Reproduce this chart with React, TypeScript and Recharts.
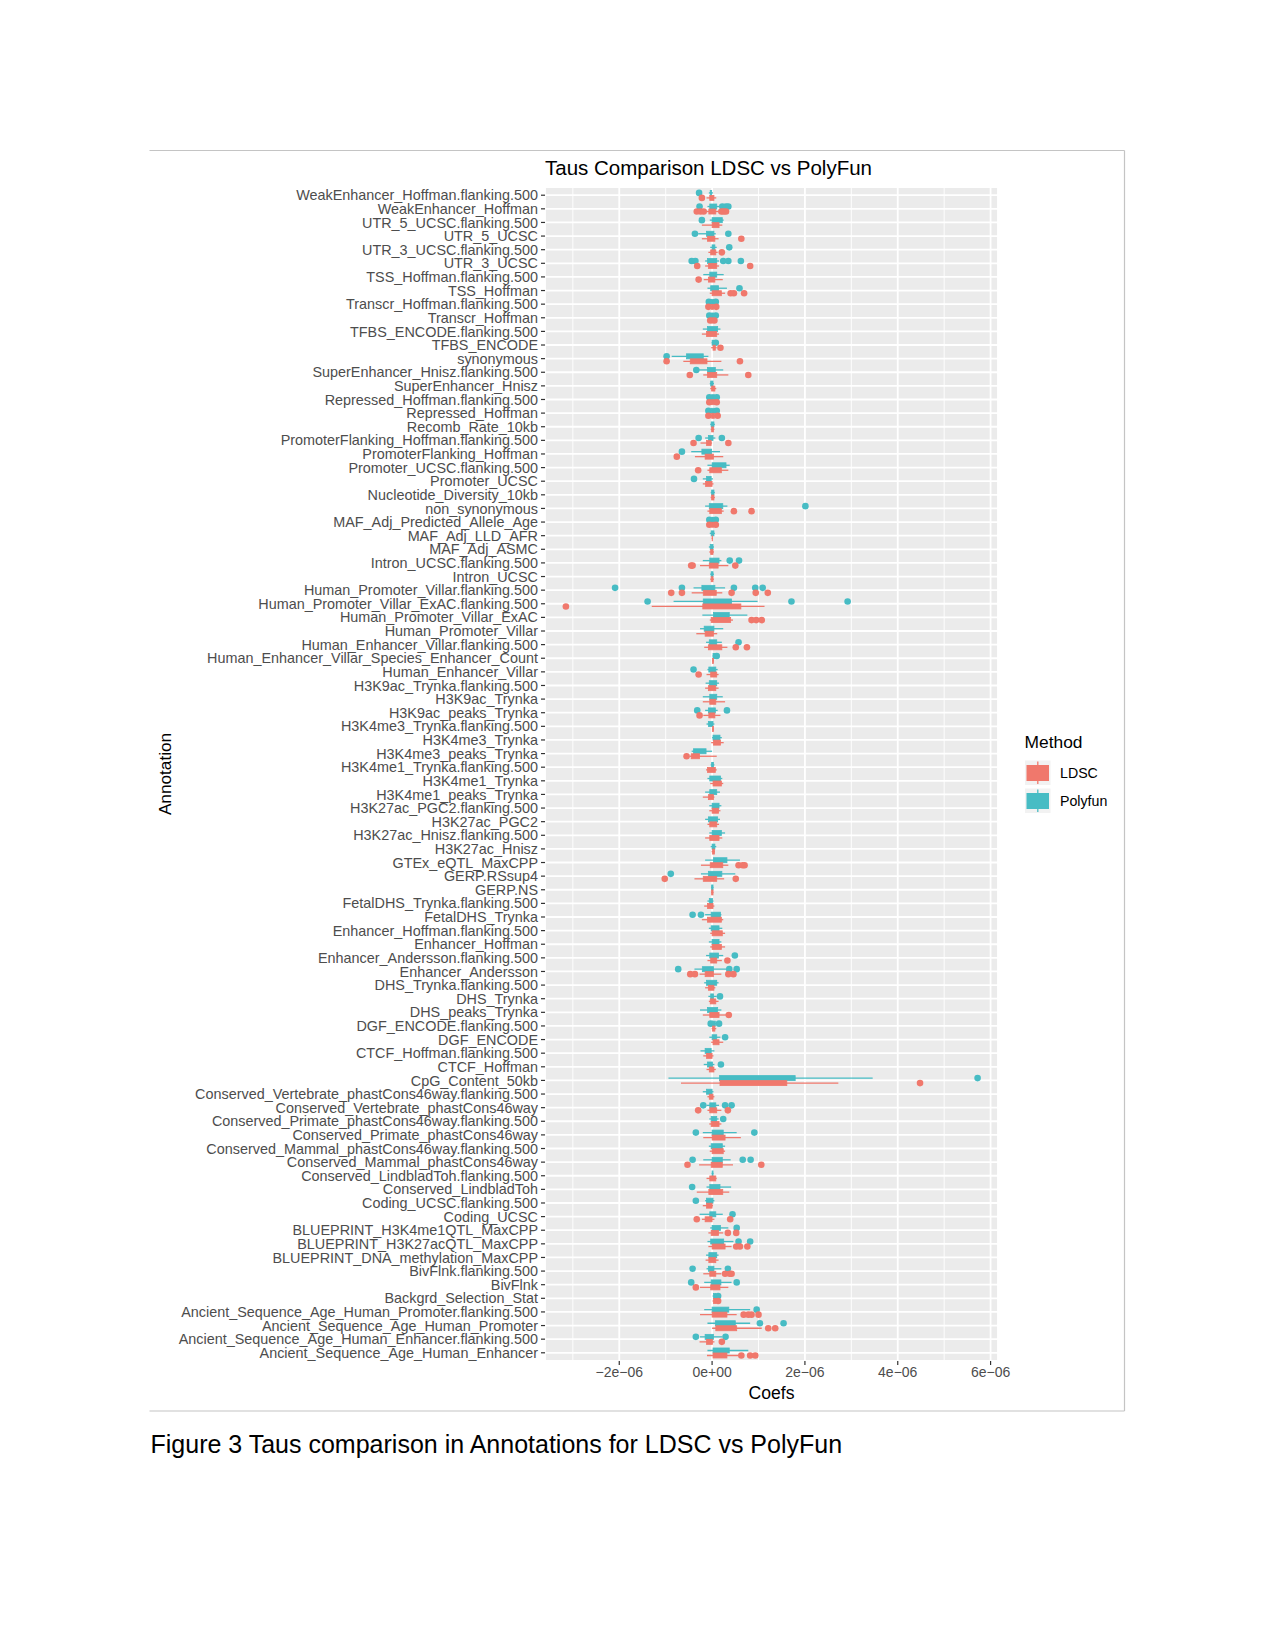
import React from 'react';
import { ComposedChart, Bar, XAxis, YAxis, CartesianGrid } from 'recharts';

// Annotations, top to bottom as they appear on the axis
const annotations = [
  'WeakEnhancer_Hoffman.flanking.500', 'WeakEnhancer_Hoffman', 'UTR_5_UCSC.flanking.500', 'UTR_5_UCSC',
  'UTR_3_UCSC.flanking.500', 'UTR_3_UCSC', 'TSS_Hoffman.flanking.500', 'TSS_Hoffman',
  'Transcr_Hoffman.flanking.500', 'Transcr_Hoffman', 'TFBS_ENCODE.flanking.500', 'TFBS_ENCODE',
  'synonymous', 'SuperEnhancer_Hnisz.flanking.500', 'SuperEnhancer_Hnisz', 'Repressed_Hoffman.flanking.500',
  'Repressed_Hoffman', 'Recomb_Rate_10kb', 'PromoterFlanking_Hoffman.flanking.500', 'PromoterFlanking_Hoffman',
  'Promoter_UCSC.flanking.500', 'Promoter_UCSC', 'Nucleotide_Diversity_10kb', 'non_synonymous',
  'MAF_Adj_Predicted_Allele_Age', 'MAF_Adj_LLD_AFR', 'MAF_Adj_ASMC', 'Intron_UCSC.flanking.500',
  'Intron_UCSC', 'Human_Promoter_Villar.flanking.500', 'Human_Promoter_Villar_ExAC.flanking.500', 'Human_Promoter_Villar_ExAC',
  'Human_Promoter_Villar', 'Human_Enhancer_Villar.flanking.500', 'Human_Enhancer_Villar_Species_Enhancer_Count', 'Human_Enhancer_Villar',
  'H3K9ac_Trynka.flanking.500', 'H3K9ac_Trynka', 'H3K9ac_peaks_Trynka', 'H3K4me3_Trynka.flanking.500',
  'H3K4me3_Trynka', 'H3K4me3_peaks_Trynka', 'H3K4me1_Trynka.flanking.500', 'H3K4me1_Trynka',
  'H3K4me1_peaks_Trynka', 'H3K27ac_PGC2.flanking.500', 'H3K27ac_PGC2', 'H3K27ac_Hnisz.flanking.500',
  'H3K27ac_Hnisz', 'GTEx_eQTL_MaxCPP', 'GERP.RSsup4', 'GERP.NS',
  'FetalDHS_Trynka.flanking.500', 'FetalDHS_Trynka', 'Enhancer_Hoffman.flanking.500', 'Enhancer_Hoffman',
  'Enhancer_Andersson.flanking.500', 'Enhancer_Andersson', 'DHS_Trynka.flanking.500', 'DHS_Trynka',
  'DHS_peaks_Trynka', 'DGF_ENCODE.flanking.500', 'DGF_ENCODE', 'CTCF_Hoffman.flanking.500',
  'CTCF_Hoffman', 'CpG_Content_50kb', 'Conserved_Vertebrate_phastCons46way.flanking.500', 'Conserved_Vertebrate_phastCons46way',
  'Conserved_Primate_phastCons46way.flanking.500', 'Conserved_Primate_phastCons46way', 'Conserved_Mammal_phastCons46way.flanking.500', 'Conserved_Mammal_phastCons46way',
  'Conserved_LindbladToh.flanking.500', 'Conserved_LindbladToh', 'Coding_UCSC.flanking.500', 'Coding_UCSC',
  'BLUEPRINT_H3K4me1QTL_MaxCPP', 'BLUEPRINT_H3K27acQTL_MaxCPP', 'BLUEPRINT_DNA_methylation_MaxCPP', 'BivFlnk.flanking.500',
  'BivFlnk', 'Backgrd_Selection_Stat', 'Ancient_Sequence_Age_Human_Promoter.flanking.500', 'Ancient_Sequence_Age_Human_Promoter',
  'Ancient_Sequence_Age_Human_Enhancer.flanking.500', 'Ancient_Sequence_Age_Human_Enhancer',
];

// tau coefficients in units of 1e-6: [lower whisker, Q1, Q3, upper whisker]
const polyfunBoxes = [
  [-0.07, -0.04, -0.01, 0.02], [-0.1, -0.05, 0.1, 0.15], [-0.05, 0, 0.22, 0.25], [-0.3, -0.12, 0.04, 0.08],
  [-0.04, 0, 0.06, 0.1], [-0.15, -0.1, 0.1, 0.15], [-0.19, -0.05, 0.1, 0.25], [-0.1, -0.03, 0.14, 0.32],
  [-0.03, -0.02, 0.03, 0.04], [-0.02, -0.01, 0.03, 0.04], [-0.2, -0.1, 0.12, 0.18], [-0.01, 0, 0.03, 0.04],
  [-0.87, -0.55, -0.19, -0.08], [-0.3, -0.1, 0.07, 0.24], [-0.05, -0.03, 0.02, 0.04], [-0.03, -0.01, 0.05, 0.07],
  [-0.04, -0.02, 0.05, 0.07], [-0.04, -0.02, 0.04, 0.06], [-0.15, -0.08, 0.02, 0.07], [-0.45, -0.22, -0.01, 0.17],
  [-0.1, 0, 0.3, 0.38], [-0.2, -0.12, -0.02, 0.02], [-0.03, -0.01, 0.04, 0.06], [-0.15, -0.06, 0.23, 0.33],
  [-0.03, -0.01, 0.03, 0.05], [-0.05, -0.02, 0.04, 0.06], [-0.07, -0.04, 0.02, 0.04], [-0.2, -0.05, 0.15, 0.2],
  [-0.04, -0.02, 0.02, 0.04], [-0.4, -0.22, 0.06, 0.28], [-0.83, -0.19, 0.42, 0.98], [-0.21, 0.03, 0.37, 0.76],
  [-0.26, -0.17, 0.04, 0.24], [-0.13, -0.06, 0.1, 0.21], [0.01, 0.02, 0.06, 0.07], [-0.1, -0.07, 0.08, 0.12],
  [-0.14, -0.06, 0.1, 0.15], [-0.2, -0.05, 0.1, 0.23], [-0.15, -0.08, 0.07, 0.12], [-0.12, -0.08, 0.02, 0.05],
  [0, 0.02, 0.17, 0.21], [-0.44, -0.4, -0.13, 0], [-0.03, -0.01, 0.03, 0.05], [-0.1, -0.05, 0.18, 0.22],
  [-0.15, -0.05, 0.1, 0.17], [-0.06, 0, 0.15, 0.2], [-0.15, -0.08, 0.12, 0.17], [-0.06, 0, 0.2, 0.28],
  [-0.03, 0, 0.06, 0.09], [-0.15, 0.03, 0.32, 0.6], [-0.24, -0.08, 0.21, 0.5], [-0.02, -0.01, 0.02, 0.03],
  [-0.1, -0.06, 0.01, 0.03], [-0.15, -0.02, 0.18, 0.2], [-0.07, -0.02, 0.15, 0.22], [-0.07, 0, 0.15, 0.2],
  [-0.13, -0.05, 0.14, 0.24], [-0.38, -0.21, 0.03, 0.3], [-0.17, -0.12, 0.1, 0.14], [-0.08, -0.03, 0.03, 0.1],
  [-0.26, -0.1, 0.12, 0.2], [-0.01, 0.01, 0.07, 0.09], [-0.06, 0, 0.1, 0.18], [-0.25, -0.15, -0.02, 0.05],
  [-0.18, -0.1, 0.01, 0.05], [-0.94, 0.16, 1.79, 3.46], [-0.2, -0.12, 0, 0.03], [-0.12, -0.05, 0.08, 0.15],
  [-0.06, -0.02, 0.1, 0.14], [-0.2, 0, 0.24, 0.53], [-0.07, -0.02, 0.22, 0.28], [-0.19, 0, 0.22, 0.4],
  [-0.01, 0, 0.02, 0.03], [-0.12, -0.05, 0.17, 0.41], [-0.15, -0.12, 0.02, 0.05], [-0.27, -0.05, 0.08, 0.23],
  [-0.04, 0, 0.18, 0.35], [-0.1, -0.03, 0.25, 0.46], [-0.13, -0.07, 0.1, 0.14], [-0.12, -0.08, 0.04, 0.2],
  [-0.17, -0.02, 0.19, 0.42], [0.01, 0.03, 0.08, 0.1], [-0.17, 0, 0.36, 0.82], [-0.1, 0.07, 0.5, 0.82],
  [-0.26, -0.15, 0.03, 0.22], [-0.1, 0.02, 0.37, 0.78],
];

const polyfunOutliers = [
  [-0.28], [-0.27, 0.22, 0.3, 0.35], [-0.22], [-0.37, 0.35],
  [0.37], [-0.44, -0.36, 0.24, 0.35, 0.62], [], [0.59],
  [-0.07, 0.08], [-0.06, 0.08], [], [0.08],
  [-0.98], [-0.34], [], [-0.06, 0.1],
  [-0.08, 0.1], [], [-0.29, 0.21], [-0.65],
  [], [-0.39], [], [2.01],
  [-0.06, 0.08], [], [], [0.38, 0.58],
  [], [-2.09, -0.65, 0.47, 0.93, 1.09], [-1.39, 1.71, 2.92], [],
  [], [0.57], [0.1], [-0.4],
  [], [], [-0.32, 0.32], [],
  [], [], [], [],
  [], [], [], [],
  [], [], [-0.89], [],
  [], [-0.42, -0.24], [], [],
  [0.49], [-0.73, 0.37, 0.53], [], [0.17],
  [], [-0.03, 0.15], [0.28], [],
  [0.19], [5.72], [], [-0.19, 0.28, 0.42],
  [0.24], [-0.35, 0.91], [], [-0.42, 0.66, 0.83],
  [], [-0.43], [-0.35], [0.44],
  [0.53], [0.57, 0.82], [], [-0.42, 0.34],
  [-0.45, 0.53], [0.13], [0.96], [1.03, 1.54],
  [-0.35, 0.29], [],
];

const ldscBoxes = [
  [-0.12, -0.05, 0.04, 0.09], [-0.12, -0.07, 0.08, 0.14], [-0.22, 0, 0.15, 0.22], [-0.22, -0.1, 0.06, 0.14],
  [-0.08, -0.03, 0.08, 0.12], [-0.15, -0.08, 0.1, 0.15], [-0.18, -0.08, 0.06, 0.23], [-0.05, 0, 0.2, 0.28],
  [-0.04, -0.02, 0.03, 0.05], [-0.02, -0.01, 0.02, 0.03], [-0.22, -0.12, 0.1, 0.15], [-0.02, 0.02, 0.07, 0.1],
  [-0.62, -0.47, -0.11, 0.2], [-0.19, -0.1, 0.1, 0.35], [-0.04, -0.01, 0.06, 0.09], [-0.03, -0.01, 0.05, 0.07],
  [-0.04, -0.01, 0.05, 0.08], [-0.03, -0.01, 0.03, 0.05], [-0.25, -0.12, -0.02, 0], [-0.37, -0.15, 0.03, 0.24],
  [-0.1, -0.05, 0.2, 0.35], [-0.2, -0.14, 0, 0.03], [-0.03, -0.01, 0.04, 0.06], [-0.1, -0.05, 0.2, 0.25],
  [-0.03, -0.01, 0.03, 0.05], [-0.01, 0, 0.01, 0.02], [-0.06, -0.03, 0.02, 0.04], [-0.26, -0.06, 0.13, 0.35],
  [-0.04, -0.02, 0.02, 0.04], [-0.44, -0.19, 0.09, 0.22], [-1.3, -0.2, 0.62, 1.13], [-0.05, -0.02, 0.4, 0.45],
  [-0.34, -0.15, 0.03, 0.11], [-0.17, -0.08, 0.21, 0.33], [0, 0.01, 0.03, 0.04], [-0.12, -0.03, 0.1, 0.14],
  [-0.15, -0.08, 0.08, 0.14], [-0.2, -0.05, 0.08, 0.28], [-0.19, -0.07, 0.06, 0.18], [0, 0.01, 0.03, 0.04],
  [-0.02, 0.03, 0.18, 0.25], [-0.48, -0.45, -0.27, 0.1], [-0.13, -0.1, 0.07, 0.1], [-0.04, 0.02, 0.2, 0.24],
  [-0.2, -0.08, 0.03, 0.05], [-0.06, 0, 0.14, 0.18], [-0.1, -0.05, 0.1, 0.15], [-0.15, -0.05, 0.15, 0.22],
  [-0.01, 0.01, 0.05, 0.06], [-0.24, -0.04, 0.23, 0.35], [-0.38, -0.19, 0.1, 0.26], [-0.02, -0.01, 0.02, 0.03],
  [-0.17, -0.1, 0.02, 0.05], [-0.22, -0.1, 0.2, 0.24], [-0.04, 0, 0.22, 0.28], [-0.04, 0, 0.2, 0.28],
  [-0.1, -0.03, 0.1, 0.21], [-0.27, -0.15, 0.03, 0.2], [-0.15, -0.08, 0.04, 0.07], [-0.07, -0.04, 0.08, 0.14],
  [-0.2, -0.05, 0.15, 0.3], [-0.01, 0.01, 0.06, 0.09], [-0.02, 0.02, 0.15, 0.24], [-0.19, -0.12, 0, 0.03],
  [-0.12, -0.06, 0.04, 0.08], [-0.67, 0.17, 1.61, 2.72], [-0.1, -0.06, 0.02, 0.05], [-0.1, -0.05, 0.1, 0.2],
  [-0.06, -0.02, 0.15, 0.2], [-0.19, 0, 0.28, 0.62], [-0.05, 0, 0.24, 0.28], [-0.28, -0.02, 0.22, 0.45],
  [-0.12, -0.05, 0.08, 0.1], [-0.33, -0.07, 0.23, 0.37], [-0.2, -0.12, 0, 0.02], [-0.22, -0.15, 0, 0.05],
  [-0.08, -0.02, 0.14, 0.24], [-0.08, 0, 0.28, 0.42], [-0.14, -0.07, 0.08, 0.14], [-0.19, -0.05, 0.08, 0.2],
  [-0.26, -0.03, 0.17, 0.35], [0.01, 0.03, 0.08, 0.1], [-0.26, 0, 0.32, 0.53], [0, 0.08, 0.53, 1.07],
  [-0.27, -0.12, 0.01, 0.05], [-0.11, 0.02, 0.32, 0.57],
];

const ldscOutliers = [
  [-0.22], [-0.33, -0.25, -0.18, 0.2, 0.25, 0.3], [], [0.63],
  [0.21], [-0.32, 0.82], [-0.29], [0.4, 0.47, 0.69],
  [-0.08, 0.09], [-0.04, 0.05], [], [0.18],
  [-0.98, 0.6], [-0.48, 0.78], [], [-0.06, 0.1],
  [-0.08, 0.12], [], [-0.4, 0.35], [-0.76],
  [-0.3], [], [], [0.47, 0.85],
  [-0.06, 0.08], [], [], [-0.45, -0.42, 0.5],
  [], [-0.88, -0.65, 0.42, 0.94, 1.2], [-3.15], [0.85, 0.95, 1.07],
  [], [0.51, 0.75], [], [-0.29],
  [], [], [-0.27], [],
  [], [-0.55], [], [],
  [], [], [], [],
  [], [0.57, 0.66, 0.7], [-1.02, 0.51], [],
  [], [], [], [],
  [0.33], [-0.47, -0.37, 0.35, 0.46], [], [],
  [0.36], [], [], [],
  [], [4.48], [], [-0.3, 0.34],
  [], [], [], [-0.53, 1.06],
  [], [], [], [-0.33, 0.39],
  [0.34, 0.52], [0.52, 0.6, 0.76], [], [0.28, 0.38, 0.42],
  [-0.35], [0.13], [0.68, 0.78, 0.85, 1.0], [1.21, 1.36],
  [0.21], [0.63, 0.82, 0.93],
];

const xTicks = [-2, 0, 2, 4, 6];
const xMinorTicks = [-3, -1, 1, 3, 5];
const methods = ['LDSC', 'Polyfun'];

const COLORS: Record<string, string> = { LDSC: '#F0786C', Polyfun: '#47BCC4' };
const FONT = '"Liberation Sans", Arial, Helvetica, sans-serif';

const span = (box: number[], out: number[]): [number, number] => [
  Math.min(box[0], ...out),
  Math.max(box[3], ...out),
];

const rows = annotations.map((name, i) => ({
  name,
  polyfun: { box: polyfunBoxes[i], out: polyfunOutliers[i] },
  ldsc: { box: ldscBoxes[i], out: ldscOutliers[i] },
}));

const fmtTick = (v: number) => (v === 0 ? '0e+00' : `${v < 0 ? '\u2212' : ''}${Math.abs(v)}e\u221206`);

// draws whiskers, box and outliers inside the pixel span the bar got from the x scale
const BoxShape = (props: any) => {
  const { x, y, width, height, payload, field, color } = props;
  const { box, out } = payload[field];
  const [lo, hi] = span(box, out);
  const px = (v: number) => x + (width * (v - lo)) / (hi - lo);
  const cy = y + height / 2;
  return (
    <g>
      <line x1={px(box[0])} x2={px(box[3])} y1={cy} y2={cy} stroke={color} strokeWidth={1.3} />
      <rect
        x={px(box[1])}
        y={y}
        width={Math.max(px(box[2]) - px(box[1]), 0.5)}
        height={height}
        fill={color}
        stroke={color}
        strokeWidth={0.8}
      />
      {out.map((v: number, k: number) => (
        <circle key={k} cx={px(v)} cy={cy} r={3.3} fill={color} />
      ))}
    </g>
  );
};

const LegendKey = ({ y, color }: { y: number; color: string }) => (
  <g>
    <rect x={1025} y={y} width={25.5} height={24.5} fill="#F2F2F2" />
    <line x1={1037.8} x2={1037.8} y1={y + 1} y2={y + 23.5} stroke={color} strokeWidth={1.3} />
    <rect x={1026.5} y={y + 4.5} width={22.5} height={16} fill={color} />
  </g>
);

export default function App() {
  return (
    <div style={{ position: 'absolute', left: 0, top: 0, width: 1275, height: 1651, background: '#fff', fontFamily: FONT }}>
      <div style={{ position: 'absolute', left: 0, top: 0 }}>
        <ComposedChart
          width={1275}
          height={1420}
          data={rows}
          layout="vertical"
          margin={{ top: 187, right: 277, bottom: 19, left: 0 }}
          barGap={0}
        >
          <CartesianGrid xAxisId="minor" horizontal={false} fill="#EBEBEB" stroke="#fff" strokeWidth={0.9} />
          <CartesianGrid stroke="#fff" strokeWidth={1.8} />
          <XAxis xAxisId="minor" type="number" domain={[-3.6, 6.16]} ticks={xMinorTicks} hide allowDataOverflow />
          <XAxis
            type="number"
            domain={[-3.6, 6.16]}
            ticks={xTicks}
            tickFormatter={fmtTick}
            allowDataOverflow
            height={40}
            axisLine={false}
            tickSize={4}
            tickMargin={2}
            tickLine={{ stroke: '#333', strokeWidth: 1.2 }}
            tick={{ fontSize: 14, fill: '#4D4D4D', fontFamily: FONT }}
          />
          <YAxis
            type="category"
            dataKey="name"
            width={545}
            interval={0}
            axisLine={false}
            tickSize={4}
            tickMargin={3}
            padding={{ top: 1.4, bottom: 1.4 }}
            tickLine={{ stroke: '#333', strokeWidth: 1.2 }}
            tick={{ fontSize: 14.4, fill: '#4D4D4D', fontFamily: FONT }}
          />
          <Bar
            dataKey={(d: any) => span(d.polyfun.box, d.polyfun.out)}
            barSize={5}
            isAnimationActive={false}
            shape={(p: any) => <BoxShape {...p} field="polyfun" color={COLORS.Polyfun} />}
          />
          <Bar
            dataKey={(d: any) => span(d.ldsc.box, d.ldsc.out)}
            barSize={5}
            isAnimationActive={false}
            shape={(p: any) => <BoxShape {...p} field="ldsc" color={COLORS.LDSC} />}
          />
        </ComposedChart>
      </div>
      <svg width={1275} height={1651} style={{ position: 'absolute', left: 0, top: 0, pointerEvents: 'none' }}>
        <g stroke="#C4C4C4" strokeWidth={1.2}>
          <line x1={149.5} x2={1124.5} y1={150.5} y2={150.5} />
          <line x1={1124.5} x2={1124.5} y1={150.5} y2={1411} />
          <line x1={149.5} x2={1124.5} y1={1411} y2={1411} />
        </g>
        <text x={545} y={167} fontSize={20.5} fill="#000" dominantBaseline="central" fontFamily={FONT}>
          Taus Comparison LDSC vs PolyFun
        </text>
        <text x={771.5} y={1393} fontSize={17.6} fill="#000" textAnchor="middle" dominantBaseline="central" fontFamily={FONT}>
          Coefs
        </text>
        <text
          x={165}
          y={774}
          fontSize={17.2}
          fill="#000"
          textAnchor="middle"
          dominantBaseline="central"
          transform="rotate(-90 165 774)"
          fontFamily={FONT}
        >
          Annotation
        </text>
        <text x={1024.5} y={742} fontSize={17.4} fill="#000" dominantBaseline="central" fontFamily={FONT}>
          Method
        </text>
        {methods.map((m, i) => (
          <g key={m}>
            <LegendKey y={760.5 + i * 28} color={COLORS[m]} />
            <text x={1060} y={773 + i * 28} fontSize={14.2} fill="#000" dominantBaseline="central" fontFamily={FONT}>
              {m}
            </text>
          </g>
        ))}
        <text x={150.5} y={1444} fontSize={25} fill="#000" dominantBaseline="central" fontFamily={FONT}>
          Figure 3 Taus comparison in Annotations for LDSC vs PolyFun
        </text>
      </svg>
    </div>
  );
}
